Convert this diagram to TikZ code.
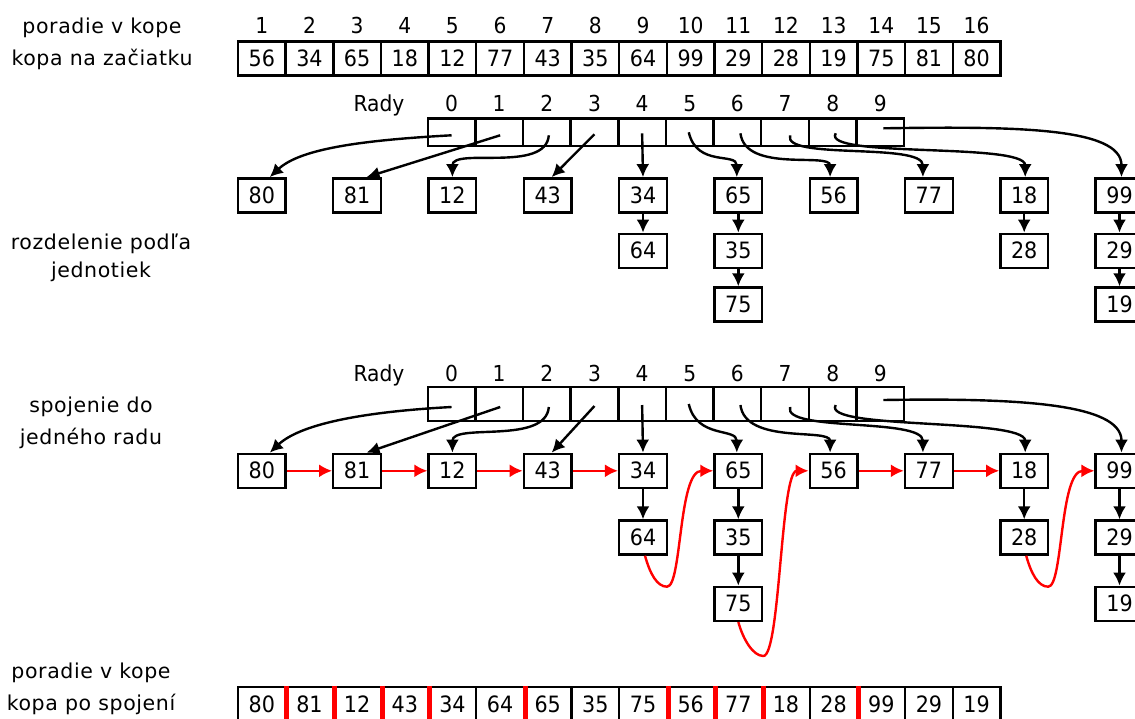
\documentclass[tikz,border=0pt]{standalone}
\usepackage{fontspec}
\setmainfont{DejaVu Sans}[FakeStretch=0.92]
\newfontfamily\lblfont{DejaVu Sans}[LetterSpace=3]
\usetikzlibrary{arrows.meta,calc}
\begin{document}
\begin{tikzpicture}[x=1pt,y=-1pt,
  cell/.style={draw,line width=2.4pt,minimum width=47.65pt,minimum height=34pt,inner sep=0pt,
    font=\fontsize{22.5}{24}\selectfont,text height=16pt,text depth=0pt},
  rcell/.style={draw,line width=2.4pt,minimum width=47.65pt,inner sep=0pt},
  idx/.style={font=\fontsize{22}{24}\selectfont,inner sep=0pt,text height=16pt,text depth=0pt},
  lbl/.style={font=\lblfont\fontsize{20.5}{24}\selectfont,inner sep=0pt,text height=15pt,text depth=4pt},
  arr/.style={line width=2.4pt,-{Latex[length=13pt,width=13pt]}},
  redarr/.style={red,line width=2.4pt,-{Latex[length=13pt,width=13pt]}},
  sep/.style={red,line width=5pt}]
\useasboundingbox (0,0) rectangle (1135,718);
\fill[white] (0,0) rectangle (1135,718);
% labels
\node[lbl] (l1) at (102,28) {poradie v kope};
\node[lbl] (l2) at (102,60) {kopa na začiatku};
\node[lbl] (l3) at (101,244) {rozdelenie podľa};
\node[lbl] (l4) at (101,272) {jednotiek};
\node[lbl] (l5) at (91,407) {spojenie do};
\node[lbl] (l6) at (91,439) {jedného radu};
\node[lbl] (l7) at (91,673) {poradie v kope};
\node[lbl] (l8) at (91,705) {kopa po spojení};
% top array
\foreach \v [count=\i] in {56,34,65,18,12,77,43,35,64,99,29,28,19,75,81,80}{
  \node[cell] (t\i) at ({238+(\i-0.5)*47.65},58.5) {\v};
  \node[idx] (ti\i) at ({238+(\i-0.5)*47.65},25) {\i};
}
% radix rows
\node[idx] (rada) at (379,103) {Rady};
\node[idx] (radb) at (379,373) {Rady};
\foreach \j in {0,...,9}{
  \node[rcell,minimum height=27.5pt] (ra\j) at ({427.7+(\j+0.5)*47.65},132.3) {};
  \node[idx] (ral\j) at ({427.7+(\j+0.5)*47.65},103) {\j};
  \node[rcell,minimum height=33.5pt] (rb\j) at ({427.7+(\j+0.5)*47.65},404) {};
  \node[idx] (rbl\j) at ({427.7+(\j+0.5)*47.65},373) {\j};
}
% buckets
\foreach \s/\ya/\yb/\yc in {p/195.3/250.8/304.5, q/470.8/537.5/603.8}{
  \node[cell] (\s80) at (261.8,\ya) {80};
  \node[cell] (\s81) at (357.1,\ya) {81};
  \node[cell] (\s12) at (452.4,\ya) {12};
  \node[cell] (\s43) at (547.7,\ya) {43};
  \node[cell] (\s34) at (643.0,\ya) {34};
  \node[cell] (\s64) at (643.0,\yb) {64};
  \node[cell] (\s65) at (738.3,\ya) {65};
  \node[cell] (\s35) at (738.3,\yb) {35};
  \node[cell] (\s75) at (738.3,\yc) {75};
  \node[cell] (\s56) at (833.6,\ya) {56};
  \node[cell] (\s77) at (928.9,\ya) {77};
  \node[cell] (\s18) at (1024.2,\ya) {18};
  \node[cell] (\s28) at (1024.2,\yb) {28};
  \node[cell] (\s99) at (1119.5,\ya) {99};
  \node[cell] (\s29) at (1119.5,\yb) {29};
  \node[cell] (\s19) at (1119.5,\yc) {19};
  \draw[arr] (\s34.south) -- (\s64.north);
  \draw[arr] (\s65.south) -- (\s35.north);
  \draw[arr] (\s35.south) -- (\s75.north);
  \draw[arr] (\s18.south) -- (\s28.north);
  \draw[arr] (\s99.south) -- (\s29.north);
  \draw[arr] (\s29.south) -- (\s19.north);
}
% distribution arrows
\foreach \r/\s in {ra/p, rb/q}{
  \draw[arr] ($(\r0.center)+(0,3)$) .. controls +(-92,5) and +(30,-28) .. ($(\s80.north)+(8,0)$);
  \draw[arr] ($(\r1.center)+(1,3)$) -- ($(\s81.north)+(9.5,0)$);
  \draw[arr] ($(\r2.center)+(2,3)$) .. controls +(-3,38) and +(0,-30) .. (\s12.north);
  \draw[arr] ($(\r3.center)+(0,2)$) -- ($(\s43.north)+(4,0)$);
  \draw[arr] ($(\r4.center)+(0,1)$) -- (\s34.north);
  \draw[arr] ($(\r5.center)+(-1,0)$) .. controls +(8,35) and +(0,-25) .. ($(\s65.north)+(-1.5,0)$);
  \draw[arr] ($(\r6.center)+(3,1)$) .. controls +(5,40) and +(0,-25) .. ($(\s56.north)+(-3.5,0)$);
  \draw[arr] ($(\r7.center)+(5,3)$) .. controls +(-8,25) and +(0,-35) .. ($(\s77.north)+(-6,0)$);
  \draw[arr] ($(\r8.center)+(3,1)$) .. controls +(-15,25) and +(0,-35) .. ($(\s18.north)+(1,0)$);
  \draw[arr] ($(\r9.center)+(3,-4)$) .. controls +(130,-2) and +(0,-50) .. ($(\s99.north)+(2,0)$);
}
% red chain
\draw[redarr] (q80.east) -- (q81.west);
\draw[redarr] (q81.east) -- (q12.west);
\draw[redarr] (q12.east) -- (q43.west);
\draw[redarr] (q43.east) -- (q34.west);
\draw[redarr] (q56.east) -- (q77.west);
\draw[redarr] (q77.east) -- (q18.west);
\draw[redarr] ($(q64.south)+(2,0)$) .. controls +(5,18) and +(-10,0) .. ($(q64.south)+(24,31)$)
   .. controls +(15,0) and +(-35,0) .. (q65.west);
\draw[redarr] ($(q75.south)+(0,0)$) .. controls +(5,18) and +(-10,0) .. ($(q75.south)+(25,34)$)
   .. controls +(17,0) and +(-28,0) .. (q56.west);
\draw[redarr] ($(q28.south)+(2,0)$) .. controls +(5,18) and +(-10,0) .. ($(q28.south)+(24,31)$)
   .. controls +(15,0) and +(-35,0) .. (q99.west);
% bottom array
\foreach \v [count=\i] in {80,81,12,43,34,64,65,35,75,56,77,18,28,99,29,19}{
  \node[cell] (f\i) at ({238+(\i-0.5)*47.65},704) {\v};
}
\foreach \i in {1,2,3,4,6,9,10,11,13}{
  \draw[sep] (f\i.north east) -- (f\i.south east);
}
\end{tikzpicture}
\end{document}
